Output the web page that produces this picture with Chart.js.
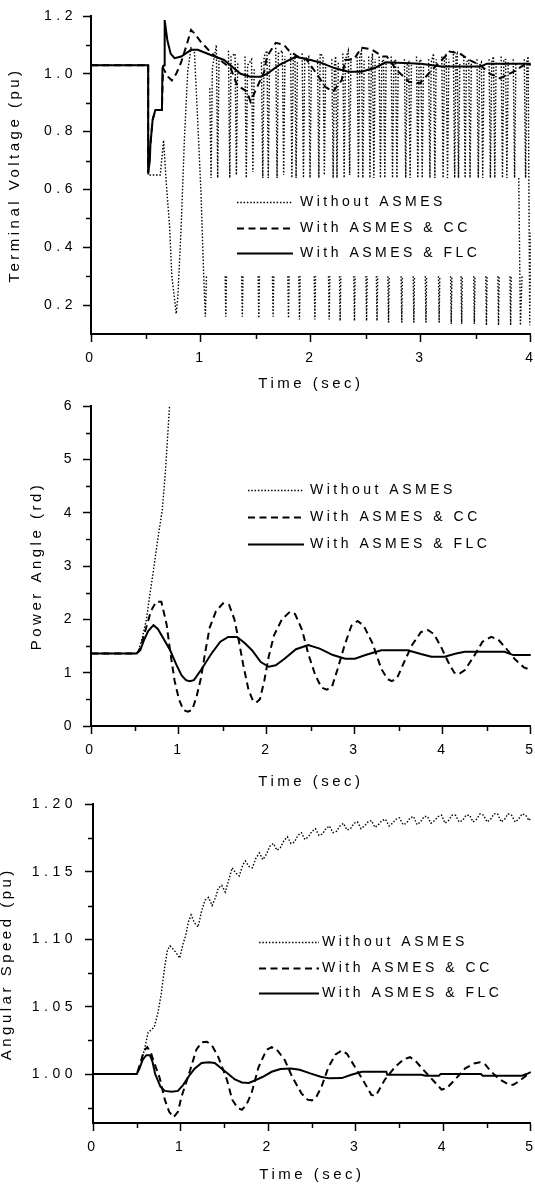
<!DOCTYPE html>
<html><head><meta charset="utf-8">
<script src="https://cdn.jsdelivr.net/npm/chart.js@4.4.1/dist/chart.umd.min.js"></script>
<style>
html,body{margin:0;padding:0;background:#fff;overflow:hidden;width:535px;height:1185px;}
.panel{position:absolute;left:0;}
canvas{display:block;}
</style></head><body>
<div class="panel" style="top:0px"><canvas id="c1" width="545" height="393"></canvas></div>
<div class="panel" style="top:390px"><canvas id="c2" width="545" height="401"></canvas></div>
<div class="panel" style="top:788px"><canvas id="c3" width="545" height="396"></canvas></div>
<script>
// ---------------- DATA ----------------
const legendLabels = ['Without ASMES', 'With ASMES & CC', 'With ASMES & FLC'];
const xTitle = 'Time (sec)';

// Chart 1: Terminal Voltage (pu)  [time, value]
const voltTitle = 'Terminal Voltage (pu)';
const voltFLC = [[0,1.03],[0.52,1.03],[0.52,0.656],[0.535,0.70],[0.54,0.754],[0.56,0.84],[0.585,0.875],[0.645,0.875],[0.65,1.02],[0.665,1.03],[0.67,1.186],[0.694,1.117],[0.724,1.07],[0.76,1.054],[0.82,1.06],[0.91,1.083],[0.97,1.083],[1.09,1.065],[1.21,1.048],[1.36,1.0],[1.45,0.99],[1.545,0.99],[1.6,1.0],[1.71,1.03],[1.86,1.059],[2.0,1.048],[2.1,1.037],[2.22,1.019],[2.34,1.007],[2.46,1.007],[2.59,1.022],[2.68,1.04],[3.0,1.035],[3.19,1.025],[3.54,1.025],[3.6,1.035],[4.0,1.035]];
const voltCC = [[0,1.03],[0.52,1.03],[0.52,0.656],[0.54,0.754],[0.56,0.84],[0.585,0.875],[0.645,0.875],[0.655,1.02],[0.7,0.99],[0.735,0.977],[0.775,1.0],[0.82,1.04],[0.87,1.1],[0.91,1.152],[0.94,1.14],[1.0,1.11],[1.1,1.07],[1.2,1.04],[1.27,1.02],[1.33,0.96],[1.42,0.938],[1.45,0.904],[1.5,0.945],[1.575,1.007],[1.6,1.06],[1.68,1.107],[1.755,1.1],[1.8,1.08],[1.88,1.06],[1.96,1.05],[2.07,0.99],[2.13,0.955],[2.2,0.938],[2.28,0.978],[2.31,1.048],[2.39,1.05],[2.46,1.09],[2.55,1.085],[2.65,1.06],[2.69,1.06],[2.78,1.013],[2.89,0.973],[2.99,0.967],[3.1,1.013],[3.19,1.048],[3.26,1.077],[3.35,1.071],[3.44,1.048],[3.54,1.03],[3.63,1.0],[3.72,0.984],[3.84,1.007],[3.96,1.036],[4.0,1.03]];
const voltWithout = [[0,1.03],[0.52,1.03],[0.52,0.65],[0.63,0.65],[0.66,0.77],[0.685,0.62],[0.715,0.47],[0.735,0.30],[0.76,0.22],[0.775,0.17],[0.79,0.23],[0.82,0.47],[0.85,0.78],[0.88,1.01],[0.91,1.09],[0.94,1.08],[0.97,0.84],[1.0,0.59],[1.025,0.30],[1.04,0.16],[1.05,0.30],[1.05,null],
[1.08,0.95],[1.092,0.64],[1.104,1.02],[1.14,1.10],[1.152,0.64],[1.164,1.05],[1.164,null],
[1.22,0.30],[1.226,0.16],[1.232,0.30],[1.232,null],
[1.25,1.08],[1.262,0.64],[1.274,1.06],[1.31,1.07],[1.322,0.65],[1.334,1.04],[1.334,null],
[1.37,0.30],[1.376,0.16],[1.382,0.30],[1.382,null],
[1.40,1.06],[1.412,0.64],[1.424,1.03],[1.46,1.05],[1.472,0.66],[1.484,1.02],[1.484,null],
[1.52,0.30],[1.526,0.155],[1.532,0.30],[1.532,null],
[1.55,1.04],[1.562,0.64],[1.574,1.06],[1.60,1.08],[1.612,0.64],[1.624,1.05],[1.624,null],
[1.65,0.30],[1.656,0.16],[1.662,0.30],[1.662,null],
[1.68,1.09],[1.692,0.64],[1.704,1.07],[1.74,1.08],[1.752,0.65],[1.764,1.06],[1.764,null],
[1.79,0.30],[1.796,0.155],[1.802,0.30],[1.802,null],
[1.815,1.07],[1.827,0.64],[1.839,1.05],[1.855,1.06],[1.865,0.64],[1.877,1.04],[1.877,null],
[1.89,0.30],[1.896,0.15],[1.902,0.30],[1.902,null],
[1.92,1.07],[1.932,0.64],[1.944,1.05],[1.98,1.06],[1.992,0.64],[2.004,1.03],[2.004,null],
[2.03,0.30],[2.036,0.15],[2.042,0.30],[2.042,null],
[2.06,1.05],[2.072,0.64],[2.084,1.07],[2.11,1.06],[2.122,0.65],[2.134,1.04],[2.134,null],
[2.16,0.30],[2.166,0.15],[2.172,0.30],[2.172,null],
[2.19,1.05],[2.202,0.64],[2.214,1.03],[2.225,1.06],[2.237,0.64],[2.249,1.04],[2.249,null],
[2.26,0.30],[2.266,0.145],[2.272,0.30],[2.272,null],
[2.29,1.07],[2.302,0.64],[2.314,1.05],[2.34,1.08],[2.352,0.65],[2.364,1.06],[2.364,null],
[2.39,0.30],[2.396,0.145],[2.402,0.30],[2.402,null],
[2.42,1.07],[2.432,0.64],[2.444,1.06],[2.46,1.08],[2.472,0.64],[2.484,1.05],[2.484,null],
[2.50,0.30],[2.506,0.145],[2.512,0.30],[2.512,null],
[2.525,1.06],[2.537,0.64],[2.549,1.04],[2.56,1.07],[2.572,0.64],[2.584,1.05],[2.584,null],
[2.595,0.30],[2.601,0.145],[2.607,0.30],[2.607,null],
[2.62,1.06],[2.632,0.64],[2.644,1.04],[2.66,1.05],[2.672,0.64],[2.684,1.04],[2.684,null],
[2.70,0.30],[2.706,0.14],[2.712,0.30],[2.712,null],
[2.73,1.06],[2.742,0.64],[2.754,1.04],[2.77,1.05],[2.782,0.64],[2.794,1.03],[2.794,null],
[2.82,0.30],[2.826,0.14],[2.832,0.30],[2.832,null],
[2.85,1.05],[2.862,0.64],[2.874,1.03],[2.89,1.04],[2.902,0.64],[2.914,1.03],[2.914,null],
[2.93,0.30],[2.936,0.14],[2.942,0.30],[2.942,null],
[2.96,1.06],[2.972,0.64],[2.984,1.04],[3.00,1.05],[3.012,0.64],[3.024,1.04],[3.024,null],
[3.04,0.30],[3.046,0.14],[3.052,0.30],[3.052,null],
[3.07,1.05],[3.082,0.64],[3.094,1.04],[3.115,1.07],[3.127,0.64],[3.139,1.05],[3.139,null],
[3.16,0.30],[3.166,0.14],[3.172,0.30],[3.172,null],
[3.19,1.06],[3.202,0.64],[3.214,1.05],[3.23,1.07],[3.242,0.64],[3.254,1.05],[3.254,null],
[3.27,0.30],[3.276,0.135],[3.282,0.30],[3.282,null],
[3.295,1.08],[3.307,0.64],[3.319,1.06],[3.33,1.07],[3.342,0.64],[3.354,1.04],[3.354,null],
[3.365,0.30],[3.371,0.135],[3.377,0.30],[3.377,null],
[3.39,1.06],[3.402,0.64],[3.414,1.04],[3.435,1.05],[3.447,0.64],[3.459,1.04],[3.459,null],
[3.48,0.30],[3.486,0.135],[3.492,0.30],[3.492,null],
[3.51,1.05],[3.522,0.64],[3.534,1.03],[3.55,1.04],[3.562,0.64],[3.574,1.03],[3.574,null],
[3.59,0.30],[3.596,0.13],[3.602,0.30],[3.602,null],
[3.62,1.05],[3.632,0.64],[3.644,1.04],[3.66,1.06],[3.672,0.64],[3.684,1.04],[3.684,null],
[3.70,0.30],[3.706,0.13],[3.712,0.30],[3.712,null],
[3.73,1.06],[3.742,0.64],[3.754,1.05],[3.77,1.05],[3.782,0.64],[3.794,1.04],[3.794,null],
[3.81,0.30],[3.816,0.13],[3.822,0.30],[3.822,null],
[3.84,1.05],[3.852,0.64],[3.864,1.04],[3.864,null],
[3.89,0.64],[3.905,0.13],[3.92,0.30],[3.92,null],
[3.94,1.05],[3.952,0.64],[3.964,1.04],[3.975,1.06],[3.99,0.13],[4.0,0.45]];
const voltYTicks = [0.2,0.3,0.4,0.5,0.6,0.7,0.8,0.9,1.0,1.1,1.2];
const voltYLabels = ['0.2','','0.4','','0.6','','0.8','','1.0','','1.2'];
const voltXTicks = [0,0.5,1,1.5,2,2.5,3,3.5,4];
const voltXLabels = ['0','','1','','2','','3','','4'];

// Chart 2: Power Angle (rd)
const angleTitle = 'Power Angle (rd)';
const angleFLC = [[0,1.36],[0.52,1.36],[0.56,1.42],[0.6,1.6],[0.65,1.78],[0.71,1.89],[0.76,1.82],[0.82,1.65],[0.9,1.42],[0.97,1.15],[1.03,0.95],[1.08,0.86],[1.12,0.84],[1.17,0.86],[1.25,1.05],[1.37,1.36],[1.47,1.58],[1.56,1.67],[1.66,1.67],[1.75,1.55],[1.83,1.42],[1.93,1.2],[2.02,1.11],[2.1,1.14],[2.2,1.26],[2.33,1.44],[2.47,1.52],[2.6,1.45],[2.75,1.33],[2.89,1.26],[3.0,1.26],[3.12,1.33],[3.3,1.42],[3.6,1.42],[3.75,1.35],[3.87,1.3],[4.02,1.3],[4.15,1.36],[4.25,1.39],[4.7,1.39],[4.8,1.33],[5.0,1.33]];
const angleCC = [[0,1.36],[0.52,1.36],[0.56,1.45],[0.62,1.8],[0.68,2.15],[0.74,2.33],[0.8,2.33],[0.86,1.9],[0.9,1.4],[0.95,0.85],[1.0,0.5],[1.05,0.3],[1.1,0.27],[1.15,0.3],[1.2,0.55],[1.25,0.9],[1.3,1.4],[1.35,1.85],[1.42,2.15],[1.5,2.3],[1.57,2.27],[1.63,2.0],[1.68,1.6],[1.73,1.15],[1.79,0.68],[1.84,0.48],[1.88,0.44],[1.92,0.5],[1.97,0.85],[2.02,1.3],[2.08,1.7],[2.17,2.0],[2.26,2.14],[2.32,2.1],[2.4,1.8],[2.47,1.35],[2.55,0.95],[2.62,0.72],[2.68,0.68],[2.74,0.74],[2.8,1.05],[2.88,1.5],[2.96,1.88],[3.03,1.97],[3.1,1.88],[3.2,1.55],[3.3,1.07],[3.37,0.88],[3.42,0.84],[3.48,0.9],[3.56,1.2],[3.65,1.52],[3.75,1.76],[3.83,1.8],[3.9,1.72],[3.98,1.48],[4.06,1.2],[4.13,1.0],[4.18,0.97],[4.25,1.05],[4.35,1.3],[4.45,1.58],[4.55,1.67],[4.63,1.62],[4.72,1.45],[4.82,1.25],[4.92,1.1],[5.0,1.05]];
const angleWithout = [[0,1.36],[0.52,1.36],[0.54,1.42],[0.576,1.61],[0.63,1.99],[0.665,2.42],[0.711,2.93],[0.758,3.49],[0.81,4.05],[0.847,4.8],[0.893,6.0],[0.92,6.6]];
const angleYTicks = [0,0.5,1,1.5,2,2.5,3,3.5,4,4.5,5,5.5,6];
const angleYLabels = ['0','','1','','2','','3','','4','','5','','6'];
const angleXTicks = [0,0.5,1,1.5,2,2.5,3,3.5,4,4.5,5];
const angleXLabels = ['0','','1','','2','','3','','4','','5'];

// Chart 3: Angular Speed (pu)
const speedTitle = 'Angular Speed (pu)';
const speedFLC = [[0,1.0],[0.5,1.0],[0.53,1.004],[0.57,1.011],[0.61,1.014],[0.65,1.014],[0.68,1.009],[0.71,1.0],[0.77,0.9906],[0.82,0.9875],[0.9,0.9868],[0.97,0.9875],[1.03,0.992],[1.09,0.998],[1.16,1.004],[1.24,1.0082],[1.32,1.0088],[1.39,1.0082],[1.47,1.004],[1.545,1.0],[1.62,0.996],[1.7,0.9938],[1.78,0.9934],[1.84,0.995],[1.94,0.998],[2.04,1.0017],[2.14,1.0038],[2.26,1.0042],[2.36,1.0032],[2.48,1.0005],[2.6,0.998],[2.7,0.9968],[2.84,0.997],[2.95,0.9995],[3.07,1.0017],[3.35,1.0017],[3.36,0.9995],[3.75,0.9995],[3.8,0.9988],[3.95,0.9988],[3.97,1.0],[4.43,1.0],[4.45,0.9988],[4.9,0.9988],[4.95,1.0],[5.0,1.0015]];
const speedCC = [[0,1.0],[0.5,1.0],[0.54,1.008],[0.58,1.017],[0.62,1.02],[0.66,1.016],[0.69,1.01],[0.76,0.9975],[0.82,0.981],[0.87,0.972],[0.92,0.968],[0.97,0.972],[1.01,0.983],[1.06,0.993],[1.11,1.003],[1.18,1.018],[1.24,1.0235],[1.3,1.024],[1.36,1.021],[1.43,1.0128],[1.53,0.9956],[1.59,0.981],[1.65,0.975],[1.7,0.9735],[1.75,0.977],[1.81,0.9857],[1.89,1.005],[1.98,1.0178],[2.04,1.02],[2.1,1.018],[2.19,1.0104],[2.27,0.9985],[2.38,0.9857],[2.45,0.981],[2.5,0.9805],[2.55,0.983],[2.61,0.9906],[2.69,1.0054],[2.77,1.0145],[2.84,1.0175],[2.9,1.015],[2.99,1.0054],[3.1,0.9936],[3.18,0.9844],[3.23,0.984],[3.33,0.9956],[3.45,1.0054],[3.55,1.011],[3.62,1.0125],[3.68,1.01],[3.76,1.004],[3.88,0.9956],[3.98,0.9885],[4.04,0.9895],[4.13,0.9956],[4.25,1.0042],[4.35,1.0078],[4.42,1.0088],[4.48,1.007],[4.53,1.003],[4.63,0.9966],[4.74,0.9924],[4.8,0.992],[4.86,0.9944],[4.97,1.0],[5.0,1.001]];
const speedWithout = [[0,1.0],[0.5,1.0],[0.55,1.008],[0.6,1.022],[0.63,1.031],[0.67,1.033],[0.7,1.035],[0.74,1.045],[0.78,1.06],[0.82,1.08],[0.85,1.092],[0.88,1.095],[0.91,1.093],[0.95,1.09],[0.99,1.086],[1.03,1.097],[1.06,1.103],[1.09,1.113],[1.12,1.118],[1.16,1.112],[1.2,1.109],[1.24,1.121],[1.28,1.129],[1.32,1.131],[1.36,1.125],[1.4,1.131],[1.43,1.138],[1.47,1.14],[1.51,1.135],[1.55,1.144],[1.59,1.153],[1.63,1.149],[1.67,1.147],[1.71,1.155],[1.74,1.158],[1.78,1.154],[1.82,1.153],[1.86,1.16],[1.9,1.164],[1.94,1.159],[1.98,1.163],[2.02,1.169],[2.06,1.171],[2.1,1.166],[2.14,1.168],[2.18,1.173],[2.22,1.176],[2.26,1.171],[2.3,1.172],[2.34,1.177],[2.38,1.179],[2.42,1.174],[2.46,1.176],[2.5,1.18],[2.54,1.182],[2.58,1.177],[2.62,1.178],[2.66,1.182],[2.7,1.184],[2.74,1.179],[2.78,1.18],[2.82,1.184],[2.86,1.186],[2.9,1.181],[2.94,1.182],[2.98,1.186],[3.02,1.187],[3.06,1.182],[3.1,1.184],[3.14,1.187],[3.18,1.188],[3.22,1.183],[3.26,1.185],[3.3,1.188],[3.34,1.189],[3.38,1.184],[3.42,1.186],[3.46,1.189],[3.5,1.19],[3.54,1.185],[3.58,1.186],[3.62,1.19],[3.66,1.191],[3.7,1.185],[3.74,1.187],[3.78,1.191],[3.82,1.191],[3.86,1.186],[3.9,1.188],[3.94,1.191],[3.98,1.192],[4.02,1.186],[4.06,1.188],[4.1,1.192],[4.14,1.192],[4.18,1.187],[4.22,1.188],[4.26,1.192],[4.3,1.192],[4.34,1.187],[4.38,1.189],[4.42,1.193],[4.46,1.192],[4.5,1.187],[4.54,1.189],[4.58,1.193],[4.62,1.193],[4.66,1.187],[4.7,1.189],[4.74,1.193],[4.78,1.192],[4.82,1.187],[4.86,1.189],[4.9,1.193],[4.94,1.192],[4.98,1.188],[5.0,1.19]];
const speedYTicks = [0.975,1.0,1.025,1.05,1.075,1.1,1.125,1.15,1.175,1.2];
const speedYLabels = ['','1.00','','1.05','','1.10','','1.15','','1.20'];
const speedXTicks = [0,0.5,1,1.5,2,2.5,3,3.5,4,4.5,5];
const speedXLabels = ['0','','1','','2','','3','','4','','5'];

// ---------------- RENDERING ----------------
const FONT = "'Liberation Sans', Arial, Helvetica, sans-serif";
const toXY = pairs => pairs.map(p => ({x: p[0], y: p[1]}));

const stylePlugin = {
  id: 'stylePlugin',
  beforeLayout(chart) { chart.ctx.letterSpacing = '4.5px'; },
  beforeDraw(chart) { chart.ctx.letterSpacing = '3.5px'; },
  beforeDatasetsDraw(chart) { chart.ctx.letterSpacing = '4.5px'; },
  afterDraw(chart, args, opts) {
    const ctx = chart.ctx;
    const ca = chart.chartArea;
    ctx.save();
    ctx.strokeStyle = '#000';
    ctx.lineWidth = 1.5;
    ctx.setLineDash([]);
    const xs = chart.scales.x, ys = chart.scales.y;
    xs.ticks.forEach((t, i) => {
      if (!opts.xLabels[i]) {
        const px = Math.round(xs.getPixelForValue(t.value)) + 0.5;
        ctx.beginPath(); ctx.moveTo(px, ca.bottom); ctx.lineTo(px, ca.bottom + 5); ctx.stroke();
      }
    });
    ys.ticks.forEach((t, i) => {
      if (!opts.yLabels[i]) {
        const py = Math.round(ys.getPixelForValue(t.value)) + 0.5;
        ctx.beginPath(); ctx.moveTo(ca.left, py); ctx.lineTo(ca.left - 5, py); ctx.stroke();
      }
    });
    const lg = opts.legend;
    ctx.letterSpacing = '3.5px';
    ctx.font = '14px ' + FONT;
    ctx.fillStyle = '#000';
    ctx.textBaseline = 'middle';
    ctx.textAlign = 'left';
    chart.data.datasets.forEach((ds, i) => {
      const y = Math.round(lg.y + i * lg.dy) + 0.5;
      ctx.setLineDash(ds.borderDash || []);
      ctx.lineWidth = ds.borderWidth;
      ctx.beginPath(); ctx.moveTo(lg.x, y); ctx.lineTo(lg.x + lg.len, y); ctx.stroke();
      ctx.setLineDash([]);
      ctx.fillText(ds.label, lg.x + lg.len + lg.gap, y);
    });
    ctx.restore();
  }
};

function makeChart(id, c) {
  const datasets = [
    {label: legendLabels[2], data: toXY(c.flc), borderDash: [], borderWidth: 2},
    {label: legendLabels[1], data: toXY(c.cc), borderDash: [7, 4.5], borderWidth: 2},
    {label: legendLabels[0], data: toXY(c.without), borderDash: [1.5, 1.8], borderWidth: 1.4}
  ].map(d => Object.assign(d, {borderColor: '#000', backgroundColor: '#000', pointRadius: 0, tension: 0, fill: false, spanGaps: false}));
  const ordered = [datasets[2], datasets[1], datasets[0]];
  return new Chart(document.getElementById(id), {
    type: 'line',
    data: {datasets: ordered},
    plugins: [stylePlugin],
    options: {
      responsive: false, animation: false, devicePixelRatio: 1, events: [],
      layout: {padding: {top: 16, right: c.padRight, bottom: 0, left: 0}},
      plugins: {
        legend: {display: false}, tooltip: {enabled: false},
        stylePlugin: {xLabels: c.xLabels, yLabels: c.yLabels, legend: c.legend}
      },
      scales: {
        x: {
          type: 'linear', min: 0, max: c.xMax,
          afterBuildTicks: s => { s.ticks = c.xTicks.map(v => ({value: v})); },
          afterFit: s => { s.height = c.xH; },
          ticks: {callback: (v, i) => c.xLabels[i], autoSkip: false, maxRotation: 0, minRotation: 0,
                  font: {family: FONT, size: 14}, color: '#000', padding: 8},
          grid: {drawOnChartArea: false, drawTicks: true, tickLength: 8, tickWidth: 1.5,
                 tickColor: ctx => c.xLabels[ctx.index] ? '#000' : 'rgba(0,0,0,0)'},
          border: {color: '#000', width: 2},
          title: {display: true, text: xTitle, color: '#000', font: {family: FONT, size: 15}, padding: {top: 0, bottom: 0}}
        },
        y: {
          type: 'linear', min: c.yMin, max: c.yMax,
          afterBuildTicks: s => { s.ticks = c.yTicks.map(v => ({value: v})); },
          afterFit: s => { s.width = c.yW; },
          ticks: {callback: (v, i) => c.yLabels[i], autoSkip: false,
                  font: {family: FONT, size: 14}, color: '#000', padding: c.yPad, z: 1},
          grid: {drawOnChartArea: false, drawTicks: true, tickLength: 8, tickWidth: 1.5,
                 tickColor: ctx => c.yLabels[ctx.index] ? '#000' : 'rgba(0,0,0,0)'},
          border: {color: '#000', width: 2},
          title: {display: true, text: c.yTitle, color: '#000', font: {family: FONT, size: 15}, padding: {top: c.yTitlePad, bottom: 0}}
        }
      }
    }
  });
}

makeChart('c1', {flc: voltFLC, cc: voltCC, without: voltWithout, yTitle: voltTitle,
  xMax: 4, yMin: 0.1, yMax: 1.2, xTicks: voltXTicks, xLabels: voltXLabels, yTicks: voltYTicks, yLabels: voltYLabels,
  xH: 59, yW: 91, padRight: 12, yPad: 6, yTitlePad: 6,
  legend: {x: 237, y: 202, dy: 25.5, len: 56, gap: 7}});
makeChart('c2', {flc: angleFLC, cc: angleCC, without: angleWithout, yTitle: angleTitle,
  xMax: 5, yMin: 0, yMax: 6, xTicks: angleXTicks, xLabels: angleXLabels, yTicks: angleYTicks, yLabels: angleYLabels,
  xH: 65, yW: 91, padRight: 14, yPad: 7, yTitlePad: 28,
  legend: {x: 248, y: 100, dy: 27, len: 56, gap: 6}});
makeChart('c3', {flc: speedFLC, cc: speedCC, without: speedWithout, yTitle: speedTitle,
  xMax: 5, yMin: 0.9637, yMax: 1.2, xTicks: speedXTicks, xLabels: speedXLabels, yTicks: speedYTicks, yLabels: speedYLabels,
  xH: 61, yW: 93, padRight: 14, yPad: 8, yTitlePad: -2,
  legend: {x: 259, y: 154, dy: 25.5, len: 60, gap: 3}});
</script>
</body></html>
